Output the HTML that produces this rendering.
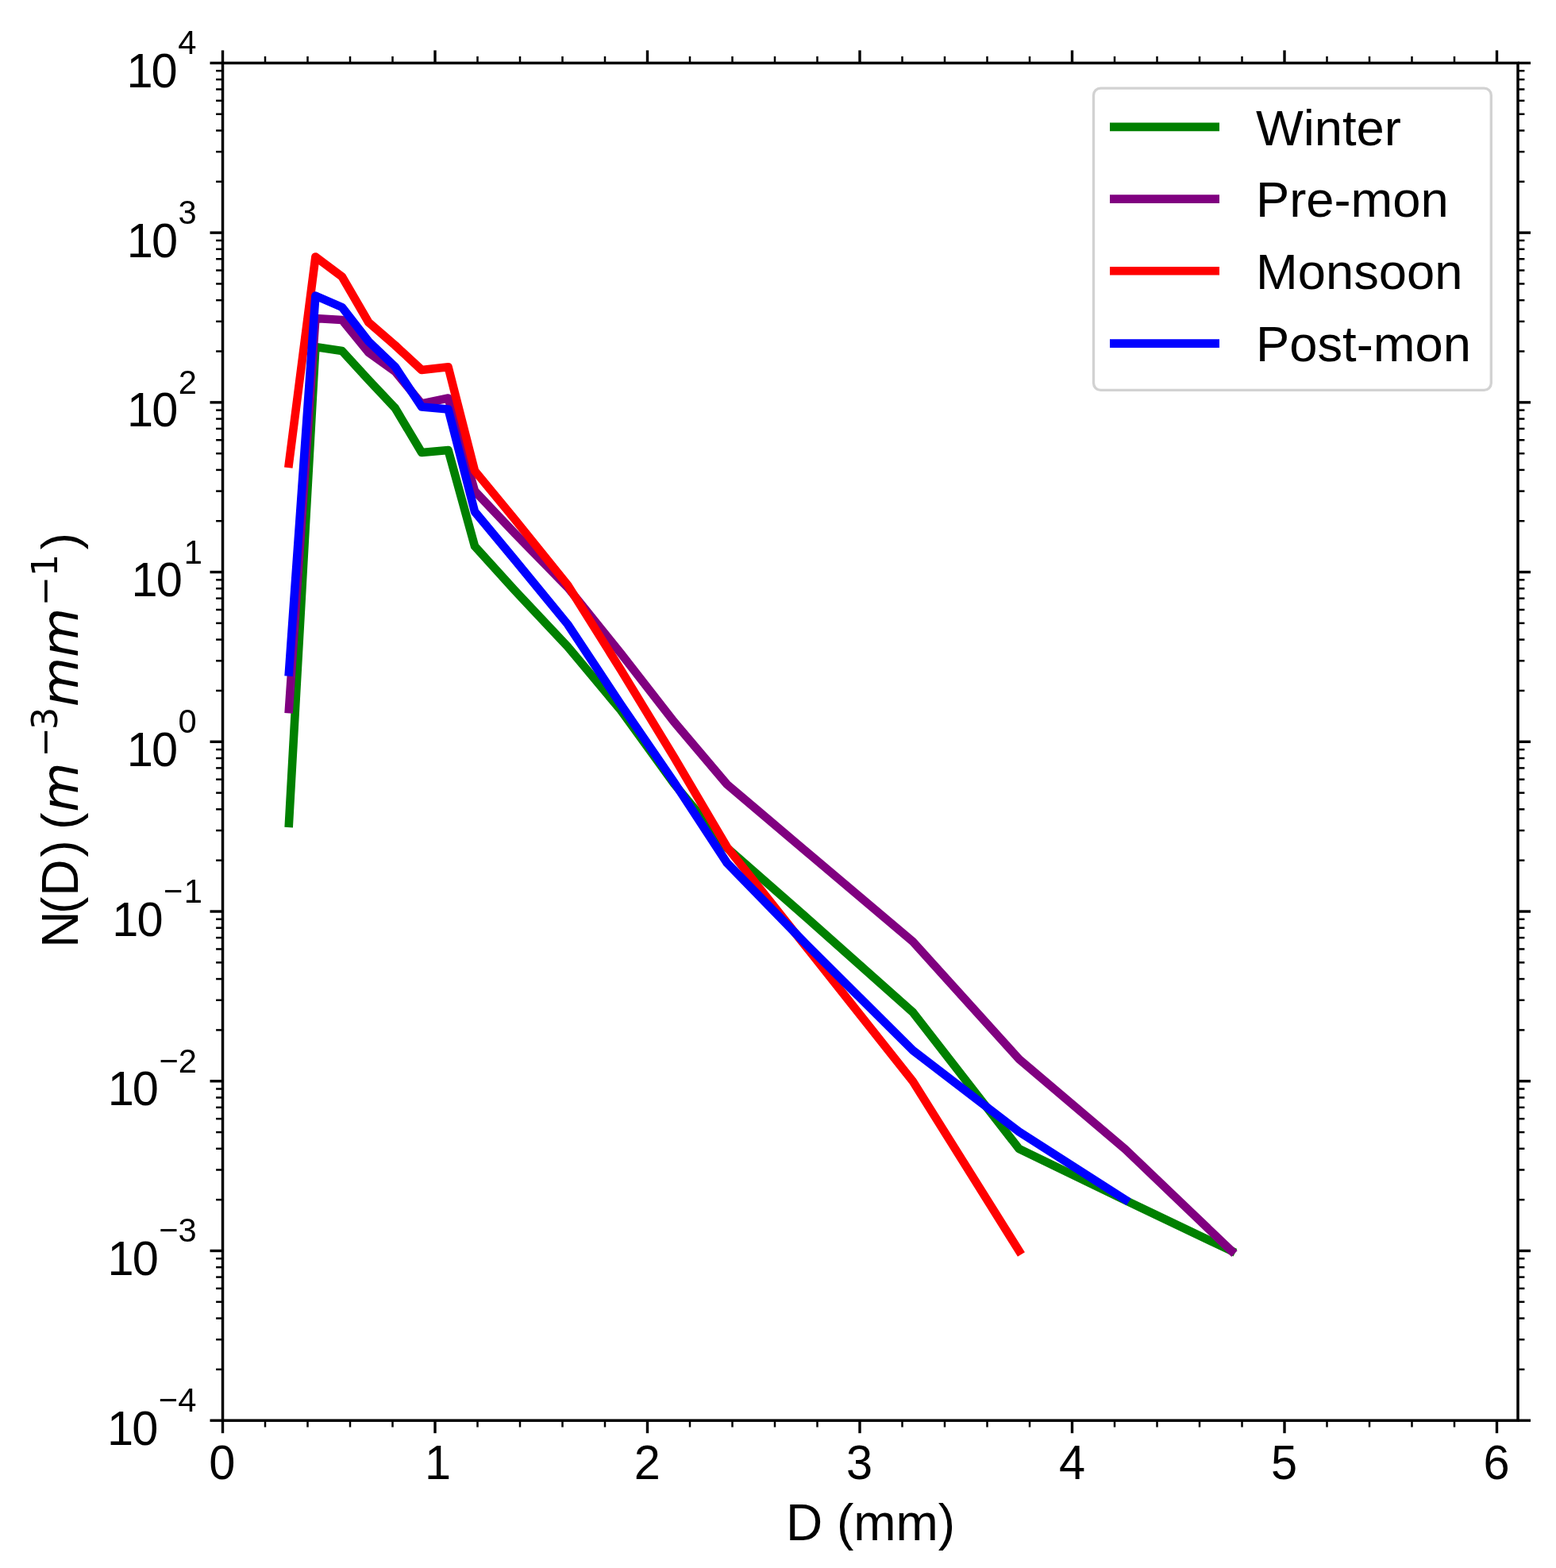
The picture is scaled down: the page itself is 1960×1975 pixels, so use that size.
<!DOCTYPE html><html><head><meta charset="utf-8"><title>N(D) vs D</title><style>html,body{margin:0;padding:0;background:#fff;overflow:hidden;}svg{display:block;}text{font-family:"Liberation Sans",Arial,sans-serif;fill:#000;}.m{font-family:"DejaVu Sans",sans-serif;}</style></head><body>
<svg xmlns="http://www.w3.org/2000/svg" width="1960" height="1975" viewBox="0 0 1960 1975">
<rect width="1960" height="1975" fill="#fff"/>
<clipPath id="ax"><rect x="280.5" y="79.4" width="1631.5" height="1709.8"/></clipPath>
<g clip-path="url(#ax)" fill="none" stroke-width="10.6" stroke-linejoin="round" stroke-linecap="square">
<polyline stroke="#008000" points="363.96,1036.80 397.40,437.00 430.84,442.00 464.27,478.50 497.71,514.00 531.15,570.00 564.59,567.00 598.02,688.00 648.31,743.50 715.19,814.70 782.06,894.70 848.94,987.00 915.81,1068.00 1016.12,1156.00 1149.88,1275.00 1283.62,1447.00 1417.38,1511.80 1551.12,1575.50"/>
<polyline stroke="#800080" points="363.96,893.00 397.40,401.00 430.84,403.00 464.27,444.00 497.71,468.00 531.15,508.50 564.59,501.50 598.02,618.50 648.31,671.60 715.19,740.00 782.06,823.00 848.94,909.00 915.81,988.00 1016.12,1073.00 1149.88,1186.00 1283.62,1334.00 1417.38,1447.50 1551.12,1575.50"/>
<polyline stroke="#ff0000" points="363.96,583.80 397.40,323.50 430.84,348.50 464.27,406.00 497.71,435.00 531.15,466.00 564.59,462.30 598.02,593.00 648.31,654.00 715.19,737.00 782.06,843.70 848.94,953.50 915.81,1067.00 1016.12,1193.40 1149.88,1362.00 1283.62,1575.50"/>
<polyline stroke="#0000ff" points="363.96,846.30 397.40,372.50 430.84,387.00 464.27,430.00 497.71,462.00 531.15,512.50 564.59,515.50 598.02,644.50 648.31,705.00 715.19,786.50 782.06,887.50 848.94,985.00 915.81,1087.00 1016.12,1190.00 1149.88,1323.00 1283.62,1425.50 1417.38,1511.00"/>
</g>
<g stroke="#000" stroke-linecap="butt"><line x1="280.50" y1="1789.20" x2="280.50" y2="1805.20" stroke-width="3.4"/><line x1="280.50" y1="79.40" x2="280.50" y2="63.40" stroke-width="3.4"/><line x1="548.00" y1="1789.20" x2="548.00" y2="1805.20" stroke-width="3.4"/><line x1="548.00" y1="79.40" x2="548.00" y2="63.40" stroke-width="3.4"/><line x1="815.50" y1="1789.20" x2="815.50" y2="1805.20" stroke-width="3.4"/><line x1="815.50" y1="79.40" x2="815.50" y2="63.40" stroke-width="3.4"/><line x1="1083.00" y1="1789.20" x2="1083.00" y2="1805.20" stroke-width="3.4"/><line x1="1083.00" y1="79.40" x2="1083.00" y2="63.40" stroke-width="3.4"/><line x1="1350.50" y1="1789.20" x2="1350.50" y2="1805.20" stroke-width="3.4"/><line x1="1350.50" y1="79.40" x2="1350.50" y2="63.40" stroke-width="3.4"/><line x1="1618.00" y1="1789.20" x2="1618.00" y2="1805.20" stroke-width="3.4"/><line x1="1618.00" y1="79.40" x2="1618.00" y2="63.40" stroke-width="3.4"/><line x1="1885.50" y1="1789.20" x2="1885.50" y2="1805.20" stroke-width="3.4"/><line x1="1885.50" y1="79.40" x2="1885.50" y2="63.40" stroke-width="3.4"/><line x1="334.00" y1="1789.20" x2="334.00" y2="1797.60" stroke-width="2.5"/><line x1="334.00" y1="79.40" x2="334.00" y2="71.00" stroke-width="2.5"/><line x1="387.50" y1="1789.20" x2="387.50" y2="1797.60" stroke-width="2.5"/><line x1="387.50" y1="79.40" x2="387.50" y2="71.00" stroke-width="2.5"/><line x1="441.00" y1="1789.20" x2="441.00" y2="1797.60" stroke-width="2.5"/><line x1="441.00" y1="79.40" x2="441.00" y2="71.00" stroke-width="2.5"/><line x1="494.50" y1="1789.20" x2="494.50" y2="1797.60" stroke-width="2.5"/><line x1="494.50" y1="79.40" x2="494.50" y2="71.00" stroke-width="2.5"/><line x1="601.50" y1="1789.20" x2="601.50" y2="1797.60" stroke-width="2.5"/><line x1="601.50" y1="79.40" x2="601.50" y2="71.00" stroke-width="2.5"/><line x1="655.00" y1="1789.20" x2="655.00" y2="1797.60" stroke-width="2.5"/><line x1="655.00" y1="79.40" x2="655.00" y2="71.00" stroke-width="2.5"/><line x1="708.50" y1="1789.20" x2="708.50" y2="1797.60" stroke-width="2.5"/><line x1="708.50" y1="79.40" x2="708.50" y2="71.00" stroke-width="2.5"/><line x1="762.00" y1="1789.20" x2="762.00" y2="1797.60" stroke-width="2.5"/><line x1="762.00" y1="79.40" x2="762.00" y2="71.00" stroke-width="2.5"/><line x1="869.00" y1="1789.20" x2="869.00" y2="1797.60" stroke-width="2.5"/><line x1="869.00" y1="79.40" x2="869.00" y2="71.00" stroke-width="2.5"/><line x1="922.50" y1="1789.20" x2="922.50" y2="1797.60" stroke-width="2.5"/><line x1="922.50" y1="79.40" x2="922.50" y2="71.00" stroke-width="2.5"/><line x1="976.00" y1="1789.20" x2="976.00" y2="1797.60" stroke-width="2.5"/><line x1="976.00" y1="79.40" x2="976.00" y2="71.00" stroke-width="2.5"/><line x1="1029.50" y1="1789.20" x2="1029.50" y2="1797.60" stroke-width="2.5"/><line x1="1029.50" y1="79.40" x2="1029.50" y2="71.00" stroke-width="2.5"/><line x1="1136.50" y1="1789.20" x2="1136.50" y2="1797.60" stroke-width="2.5"/><line x1="1136.50" y1="79.40" x2="1136.50" y2="71.00" stroke-width="2.5"/><line x1="1190.00" y1="1789.20" x2="1190.00" y2="1797.60" stroke-width="2.5"/><line x1="1190.00" y1="79.40" x2="1190.00" y2="71.00" stroke-width="2.5"/><line x1="1243.50" y1="1789.20" x2="1243.50" y2="1797.60" stroke-width="2.5"/><line x1="1243.50" y1="79.40" x2="1243.50" y2="71.00" stroke-width="2.5"/><line x1="1297.00" y1="1789.20" x2="1297.00" y2="1797.60" stroke-width="2.5"/><line x1="1297.00" y1="79.40" x2="1297.00" y2="71.00" stroke-width="2.5"/><line x1="1404.00" y1="1789.20" x2="1404.00" y2="1797.60" stroke-width="2.5"/><line x1="1404.00" y1="79.40" x2="1404.00" y2="71.00" stroke-width="2.5"/><line x1="1457.50" y1="1789.20" x2="1457.50" y2="1797.60" stroke-width="2.5"/><line x1="1457.50" y1="79.40" x2="1457.50" y2="71.00" stroke-width="2.5"/><line x1="1511.00" y1="1789.20" x2="1511.00" y2="1797.60" stroke-width="2.5"/><line x1="1511.00" y1="79.40" x2="1511.00" y2="71.00" stroke-width="2.5"/><line x1="1564.50" y1="1789.20" x2="1564.50" y2="1797.60" stroke-width="2.5"/><line x1="1564.50" y1="79.40" x2="1564.50" y2="71.00" stroke-width="2.5"/><line x1="1671.50" y1="1789.20" x2="1671.50" y2="1797.60" stroke-width="2.5"/><line x1="1671.50" y1="79.40" x2="1671.50" y2="71.00" stroke-width="2.5"/><line x1="1725.00" y1="1789.20" x2="1725.00" y2="1797.60" stroke-width="2.5"/><line x1="1725.00" y1="79.40" x2="1725.00" y2="71.00" stroke-width="2.5"/><line x1="1778.50" y1="1789.20" x2="1778.50" y2="1797.60" stroke-width="2.5"/><line x1="1778.50" y1="79.40" x2="1778.50" y2="71.00" stroke-width="2.5"/><line x1="1832.00" y1="1789.20" x2="1832.00" y2="1797.60" stroke-width="2.5"/><line x1="1832.00" y1="79.40" x2="1832.00" y2="71.00" stroke-width="2.5"/><line x1="280.50" y1="1789.20" x2="264.50" y2="1789.20" stroke-width="3.4"/><line x1="1912.00" y1="1789.20" x2="1928.00" y2="1789.20" stroke-width="3.4"/><line x1="280.50" y1="1575.48" x2="264.50" y2="1575.48" stroke-width="3.4"/><line x1="1912.00" y1="1575.48" x2="1928.00" y2="1575.48" stroke-width="3.4"/><line x1="280.50" y1="1361.75" x2="264.50" y2="1361.75" stroke-width="3.4"/><line x1="1912.00" y1="1361.75" x2="1928.00" y2="1361.75" stroke-width="3.4"/><line x1="280.50" y1="1148.03" x2="264.50" y2="1148.03" stroke-width="3.4"/><line x1="1912.00" y1="1148.03" x2="1928.00" y2="1148.03" stroke-width="3.4"/><line x1="280.50" y1="934.30" x2="264.50" y2="934.30" stroke-width="3.4"/><line x1="1912.00" y1="934.30" x2="1928.00" y2="934.30" stroke-width="3.4"/><line x1="280.50" y1="720.57" x2="264.50" y2="720.57" stroke-width="3.4"/><line x1="1912.00" y1="720.57" x2="1928.00" y2="720.57" stroke-width="3.4"/><line x1="280.50" y1="506.85" x2="264.50" y2="506.85" stroke-width="3.4"/><line x1="1912.00" y1="506.85" x2="1928.00" y2="506.85" stroke-width="3.4"/><line x1="280.50" y1="293.12" x2="264.50" y2="293.12" stroke-width="3.4"/><line x1="1912.00" y1="293.12" x2="1928.00" y2="293.12" stroke-width="3.4"/><line x1="280.50" y1="79.40" x2="264.50" y2="79.40" stroke-width="3.4"/><line x1="1912.00" y1="79.40" x2="1928.00" y2="79.40" stroke-width="3.4"/><line x1="280.50" y1="1724.86" x2="272.10" y2="1724.86" stroke-width="2.5"/><line x1="1912.00" y1="1724.86" x2="1920.40" y2="1724.86" stroke-width="2.5"/><line x1="280.50" y1="1687.23" x2="272.10" y2="1687.23" stroke-width="2.5"/><line x1="1912.00" y1="1687.23" x2="1920.40" y2="1687.23" stroke-width="2.5"/><line x1="280.50" y1="1660.52" x2="272.10" y2="1660.52" stroke-width="2.5"/><line x1="1912.00" y1="1660.52" x2="1920.40" y2="1660.52" stroke-width="2.5"/><line x1="280.50" y1="1639.81" x2="272.10" y2="1639.81" stroke-width="2.5"/><line x1="1912.00" y1="1639.81" x2="1920.40" y2="1639.81" stroke-width="2.5"/><line x1="280.50" y1="1622.89" x2="272.10" y2="1622.89" stroke-width="2.5"/><line x1="1912.00" y1="1622.89" x2="1920.40" y2="1622.89" stroke-width="2.5"/><line x1="280.50" y1="1608.58" x2="272.10" y2="1608.58" stroke-width="2.5"/><line x1="1912.00" y1="1608.58" x2="1920.40" y2="1608.58" stroke-width="2.5"/><line x1="280.50" y1="1596.19" x2="272.10" y2="1596.19" stroke-width="2.5"/><line x1="1912.00" y1="1596.19" x2="1920.40" y2="1596.19" stroke-width="2.5"/><line x1="280.50" y1="1585.25" x2="272.10" y2="1585.25" stroke-width="2.5"/><line x1="1912.00" y1="1585.25" x2="1920.40" y2="1585.25" stroke-width="2.5"/><line x1="280.50" y1="1511.14" x2="272.10" y2="1511.14" stroke-width="2.5"/><line x1="1912.00" y1="1511.14" x2="1920.40" y2="1511.14" stroke-width="2.5"/><line x1="280.50" y1="1473.50" x2="272.10" y2="1473.50" stroke-width="2.5"/><line x1="1912.00" y1="1473.50" x2="1920.40" y2="1473.50" stroke-width="2.5"/><line x1="280.50" y1="1446.80" x2="272.10" y2="1446.80" stroke-width="2.5"/><line x1="1912.00" y1="1446.80" x2="1920.40" y2="1446.80" stroke-width="2.5"/><line x1="280.50" y1="1426.09" x2="272.10" y2="1426.09" stroke-width="2.5"/><line x1="1912.00" y1="1426.09" x2="1920.40" y2="1426.09" stroke-width="2.5"/><line x1="280.50" y1="1409.16" x2="272.10" y2="1409.16" stroke-width="2.5"/><line x1="1912.00" y1="1409.16" x2="1920.40" y2="1409.16" stroke-width="2.5"/><line x1="280.50" y1="1394.86" x2="272.10" y2="1394.86" stroke-width="2.5"/><line x1="1912.00" y1="1394.86" x2="1920.40" y2="1394.86" stroke-width="2.5"/><line x1="280.50" y1="1382.46" x2="272.10" y2="1382.46" stroke-width="2.5"/><line x1="1912.00" y1="1382.46" x2="1920.40" y2="1382.46" stroke-width="2.5"/><line x1="280.50" y1="1371.53" x2="272.10" y2="1371.53" stroke-width="2.5"/><line x1="1912.00" y1="1371.53" x2="1920.40" y2="1371.53" stroke-width="2.5"/><line x1="280.50" y1="1297.41" x2="272.10" y2="1297.41" stroke-width="2.5"/><line x1="1912.00" y1="1297.41" x2="1920.40" y2="1297.41" stroke-width="2.5"/><line x1="280.50" y1="1259.78" x2="272.10" y2="1259.78" stroke-width="2.5"/><line x1="1912.00" y1="1259.78" x2="1920.40" y2="1259.78" stroke-width="2.5"/><line x1="280.50" y1="1233.07" x2="272.10" y2="1233.07" stroke-width="2.5"/><line x1="1912.00" y1="1233.07" x2="1920.40" y2="1233.07" stroke-width="2.5"/><line x1="280.50" y1="1212.36" x2="272.10" y2="1212.36" stroke-width="2.5"/><line x1="1912.00" y1="1212.36" x2="1920.40" y2="1212.36" stroke-width="2.5"/><line x1="280.50" y1="1195.44" x2="272.10" y2="1195.44" stroke-width="2.5"/><line x1="1912.00" y1="1195.44" x2="1920.40" y2="1195.44" stroke-width="2.5"/><line x1="280.50" y1="1181.13" x2="272.10" y2="1181.13" stroke-width="2.5"/><line x1="1912.00" y1="1181.13" x2="1920.40" y2="1181.13" stroke-width="2.5"/><line x1="280.50" y1="1168.74" x2="272.10" y2="1168.74" stroke-width="2.5"/><line x1="1912.00" y1="1168.74" x2="1920.40" y2="1168.74" stroke-width="2.5"/><line x1="280.50" y1="1157.80" x2="272.10" y2="1157.80" stroke-width="2.5"/><line x1="1912.00" y1="1157.80" x2="1920.40" y2="1157.80" stroke-width="2.5"/><line x1="280.50" y1="1083.69" x2="272.10" y2="1083.69" stroke-width="2.5"/><line x1="1912.00" y1="1083.69" x2="1920.40" y2="1083.69" stroke-width="2.5"/><line x1="280.50" y1="1046.05" x2="272.10" y2="1046.05" stroke-width="2.5"/><line x1="1912.00" y1="1046.05" x2="1920.40" y2="1046.05" stroke-width="2.5"/><line x1="280.50" y1="1019.35" x2="272.10" y2="1019.35" stroke-width="2.5"/><line x1="1912.00" y1="1019.35" x2="1920.40" y2="1019.35" stroke-width="2.5"/><line x1="280.50" y1="998.64" x2="272.10" y2="998.64" stroke-width="2.5"/><line x1="1912.00" y1="998.64" x2="1920.40" y2="998.64" stroke-width="2.5"/><line x1="280.50" y1="981.71" x2="272.10" y2="981.71" stroke-width="2.5"/><line x1="1912.00" y1="981.71" x2="1920.40" y2="981.71" stroke-width="2.5"/><line x1="280.50" y1="967.41" x2="272.10" y2="967.41" stroke-width="2.5"/><line x1="1912.00" y1="967.41" x2="1920.40" y2="967.41" stroke-width="2.5"/><line x1="280.50" y1="955.01" x2="272.10" y2="955.01" stroke-width="2.5"/><line x1="1912.00" y1="955.01" x2="1920.40" y2="955.01" stroke-width="2.5"/><line x1="280.50" y1="944.08" x2="272.10" y2="944.08" stroke-width="2.5"/><line x1="1912.00" y1="944.08" x2="1920.40" y2="944.08" stroke-width="2.5"/><line x1="280.50" y1="869.96" x2="272.10" y2="869.96" stroke-width="2.5"/><line x1="1912.00" y1="869.96" x2="1920.40" y2="869.96" stroke-width="2.5"/><line x1="280.50" y1="832.33" x2="272.10" y2="832.33" stroke-width="2.5"/><line x1="1912.00" y1="832.33" x2="1920.40" y2="832.33" stroke-width="2.5"/><line x1="280.50" y1="805.62" x2="272.10" y2="805.62" stroke-width="2.5"/><line x1="1912.00" y1="805.62" x2="1920.40" y2="805.62" stroke-width="2.5"/><line x1="280.50" y1="784.91" x2="272.10" y2="784.91" stroke-width="2.5"/><line x1="1912.00" y1="784.91" x2="1920.40" y2="784.91" stroke-width="2.5"/><line x1="280.50" y1="767.99" x2="272.10" y2="767.99" stroke-width="2.5"/><line x1="1912.00" y1="767.99" x2="1920.40" y2="767.99" stroke-width="2.5"/><line x1="280.50" y1="753.68" x2="272.10" y2="753.68" stroke-width="2.5"/><line x1="1912.00" y1="753.68" x2="1920.40" y2="753.68" stroke-width="2.5"/><line x1="280.50" y1="741.29" x2="272.10" y2="741.29" stroke-width="2.5"/><line x1="1912.00" y1="741.29" x2="1920.40" y2="741.29" stroke-width="2.5"/><line x1="280.50" y1="730.35" x2="272.10" y2="730.35" stroke-width="2.5"/><line x1="1912.00" y1="730.35" x2="1920.40" y2="730.35" stroke-width="2.5"/><line x1="280.50" y1="656.24" x2="272.10" y2="656.24" stroke-width="2.5"/><line x1="1912.00" y1="656.24" x2="1920.40" y2="656.24" stroke-width="2.5"/><line x1="280.50" y1="618.60" x2="272.10" y2="618.60" stroke-width="2.5"/><line x1="1912.00" y1="618.60" x2="1920.40" y2="618.60" stroke-width="2.5"/><line x1="280.50" y1="591.90" x2="272.10" y2="591.90" stroke-width="2.5"/><line x1="1912.00" y1="591.90" x2="1920.40" y2="591.90" stroke-width="2.5"/><line x1="280.50" y1="571.19" x2="272.10" y2="571.19" stroke-width="2.5"/><line x1="1912.00" y1="571.19" x2="1920.40" y2="571.19" stroke-width="2.5"/><line x1="280.50" y1="554.26" x2="272.10" y2="554.26" stroke-width="2.5"/><line x1="1912.00" y1="554.26" x2="1920.40" y2="554.26" stroke-width="2.5"/><line x1="280.50" y1="539.96" x2="272.10" y2="539.96" stroke-width="2.5"/><line x1="1912.00" y1="539.96" x2="1920.40" y2="539.96" stroke-width="2.5"/><line x1="280.50" y1="527.56" x2="272.10" y2="527.56" stroke-width="2.5"/><line x1="1912.00" y1="527.56" x2="1920.40" y2="527.56" stroke-width="2.5"/><line x1="280.50" y1="516.63" x2="272.10" y2="516.63" stroke-width="2.5"/><line x1="1912.00" y1="516.63" x2="1920.40" y2="516.63" stroke-width="2.5"/><line x1="280.50" y1="442.51" x2="272.10" y2="442.51" stroke-width="2.5"/><line x1="1912.00" y1="442.51" x2="1920.40" y2="442.51" stroke-width="2.5"/><line x1="280.50" y1="404.88" x2="272.10" y2="404.88" stroke-width="2.5"/><line x1="1912.00" y1="404.88" x2="1920.40" y2="404.88" stroke-width="2.5"/><line x1="280.50" y1="378.17" x2="272.10" y2="378.17" stroke-width="2.5"/><line x1="1912.00" y1="378.17" x2="1920.40" y2="378.17" stroke-width="2.5"/><line x1="280.50" y1="357.46" x2="272.10" y2="357.46" stroke-width="2.5"/><line x1="1912.00" y1="357.46" x2="1920.40" y2="357.46" stroke-width="2.5"/><line x1="280.50" y1="340.54" x2="272.10" y2="340.54" stroke-width="2.5"/><line x1="1912.00" y1="340.54" x2="1920.40" y2="340.54" stroke-width="2.5"/><line x1="280.50" y1="326.23" x2="272.10" y2="326.23" stroke-width="2.5"/><line x1="1912.00" y1="326.23" x2="1920.40" y2="326.23" stroke-width="2.5"/><line x1="280.50" y1="313.84" x2="272.10" y2="313.84" stroke-width="2.5"/><line x1="1912.00" y1="313.84" x2="1920.40" y2="313.84" stroke-width="2.5"/><line x1="280.50" y1="302.90" x2="272.10" y2="302.90" stroke-width="2.5"/><line x1="1912.00" y1="302.90" x2="1920.40" y2="302.90" stroke-width="2.5"/><line x1="280.50" y1="228.79" x2="272.10" y2="228.79" stroke-width="2.5"/><line x1="1912.00" y1="228.79" x2="1920.40" y2="228.79" stroke-width="2.5"/><line x1="280.50" y1="191.15" x2="272.10" y2="191.15" stroke-width="2.5"/><line x1="1912.00" y1="191.15" x2="1920.40" y2="191.15" stroke-width="2.5"/><line x1="280.50" y1="164.45" x2="272.10" y2="164.45" stroke-width="2.5"/><line x1="1912.00" y1="164.45" x2="1920.40" y2="164.45" stroke-width="2.5"/><line x1="280.50" y1="143.74" x2="272.10" y2="143.74" stroke-width="2.5"/><line x1="1912.00" y1="143.74" x2="1920.40" y2="143.74" stroke-width="2.5"/><line x1="280.50" y1="126.81" x2="272.10" y2="126.81" stroke-width="2.5"/><line x1="1912.00" y1="126.81" x2="1920.40" y2="126.81" stroke-width="2.5"/><line x1="280.50" y1="112.51" x2="272.10" y2="112.51" stroke-width="2.5"/><line x1="1912.00" y1="112.51" x2="1920.40" y2="112.51" stroke-width="2.5"/><line x1="280.50" y1="100.11" x2="272.10" y2="100.11" stroke-width="2.5"/><line x1="1912.00" y1="100.11" x2="1920.40" y2="100.11" stroke-width="2.5"/><line x1="280.50" y1="89.18" x2="272.10" y2="89.18" stroke-width="2.5"/><line x1="1912.00" y1="89.18" x2="1920.40" y2="89.18" stroke-width="2.5"/></g>
<rect x="280.5" y="79.4" width="1631.5" height="1709.8" fill="none" stroke="#000" stroke-width="3.5" stroke-linejoin="miter"/>
<text transform="translate(0,1862.60) scale(1,1.03)" x="263.32" y="0" font-size="59.50">0</text>
<text transform="translate(0,1862.60) scale(1,1.03)" x="534.89" y="0" font-size="59.50">1</text>
<text transform="translate(0,1862.60) scale(1,1.03)" x="798.79" y="0" font-size="59.50">2</text>
<text transform="translate(0,1862.60) scale(1,1.03)" x="1065.88" y="0" font-size="59.50">3</text>
<text transform="translate(0,1862.60) scale(1,1.03)" x="1333.88" y="0" font-size="59.50">4</text>
<text transform="translate(0,1862.60) scale(1,1.03)" x="1600.94" y="0" font-size="59.50">5</text>
<text transform="translate(0,1862.60) scale(1,1.03)" x="1868.44" y="0" font-size="59.50">6</text>
<text transform="translate(0,1819.80) scale(1,1.03)" x="135.10 166.25" y="0" font-size="59.50">10</text>
<text transform="translate(0,1778.20) scale(1,1.03)" x="199.84 224.16" y="0" font-size="41.65">−4</text>
<text transform="translate(0,1606.08) scale(1,1.03)" x="135.52 166.67" y="0" font-size="59.50">10</text>
<text transform="translate(0,1564.48) scale(1,1.03)" x="200.25 224.58" y="0" font-size="41.65">−3</text>
<text transform="translate(0,1392.35) scale(1,1.03)" x="135.69 166.84" y="0" font-size="59.50">10</text>
<text transform="translate(0,1350.75) scale(1,1.03)" x="200.42 224.74" y="0" font-size="41.65">−2</text>
<text transform="translate(0,1178.62) scale(1,1.03)" x="141.31 172.46" y="0" font-size="59.50">10</text>
<text transform="translate(0,1137.03) scale(1,1.03)" x="206.04 231.72" y="0" font-size="41.65">−1</text>
<text transform="translate(0,964.90) scale(1,1.03)" x="159.84 190.99" y="0" font-size="59.50">10</text>
<text transform="translate(0,923.30) scale(1,1.03)" x="224.58" y="0" font-size="41.65">0</text>
<text transform="translate(0,751.17) scale(1,1.03)" x="165.63 196.78" y="0" font-size="59.50">10</text>
<text transform="translate(0,709.57) scale(1,1.03)" x="231.72" y="0" font-size="41.65">1</text>
<text transform="translate(0,537.45) scale(1,1.03)" x="160.01 191.16" y="0" font-size="59.50">10</text>
<text transform="translate(0,495.85) scale(1,1.03)" x="224.74" y="0" font-size="41.65">2</text>
<text transform="translate(0,323.73) scale(1,1.03)" x="159.84 190.99" y="0" font-size="59.50">10</text>
<text transform="translate(0,282.12) scale(1,1.03)" x="224.58" y="0" font-size="41.65">3</text>
<text transform="translate(0,110.00) scale(1,1.03)" x="159.43 190.58" y="0" font-size="59.50">10</text>
<text transform="translate(0,68.40) scale(1,1.03)" x="224.16" y="0" font-size="41.65">4</text>
<text x="1096.5" y="1940.3" font-size="64.0" text-anchor="middle">D (mm)</text>
<text transform="translate(98.0,1193.76) rotate(-90)" font-size="64.0"><tspan>N</tspan><tspan dx="-3.4">(</tspan><tspan dx="0.9">D</tspan><tspan dx="2.9">)</tspan><tspan dx="-4.4"> (</tspan><tspan class="m" font-style="italic" dx="0.8">m</tspan><tspan class="m" font-size="44.80" dy="-26.5" dx="6.7">−</tspan><tspan class="m" font-size="44.80" dx="-3.1">3</tspan><tspan class="m" font-style="italic" dy="26.5" dx="0.5">mm</tspan><tspan class="m" font-size="44.80" dy="-26.5" dx="2.2">−</tspan><tspan class="m" font-size="44.80" dx="-0.5">1</tspan><tspan dy="26.5" dx="5.5">)</tspan></text>
<rect x="1377.5" y="111.1" width="500.79999999999995" height="380.29999999999995" rx="8.8" ry="8.8" fill="#fff" stroke="#d2d2d2" stroke-width="3.33"/>
<line x1="1403.30" y1="159.9" x2="1530.70" y2="159.9" stroke="#008000" stroke-width="10.6" stroke-linecap="square"/>
<text x="1582" y="182.50" font-size="63.3">Winter</text>
<line x1="1403.30" y1="250.6" x2="1530.70" y2="250.6" stroke="#800080" stroke-width="10.6" stroke-linecap="square"/>
<text x="1582" y="273.20" font-size="63.3">Pre-mon</text>
<line x1="1403.30" y1="341.3" x2="1530.70" y2="341.3" stroke="#ff0000" stroke-width="10.6" stroke-linecap="square"/>
<text x="1582" y="363.90" font-size="63.3">Monsoon</text>
<line x1="1403.30" y1="432.6" x2="1530.70" y2="432.6" stroke="#0000ff" stroke-width="10.6" stroke-linecap="square"/>
<text x="1582" y="455.20" font-size="63.3">Post-mon</text>
</svg></body></html>
